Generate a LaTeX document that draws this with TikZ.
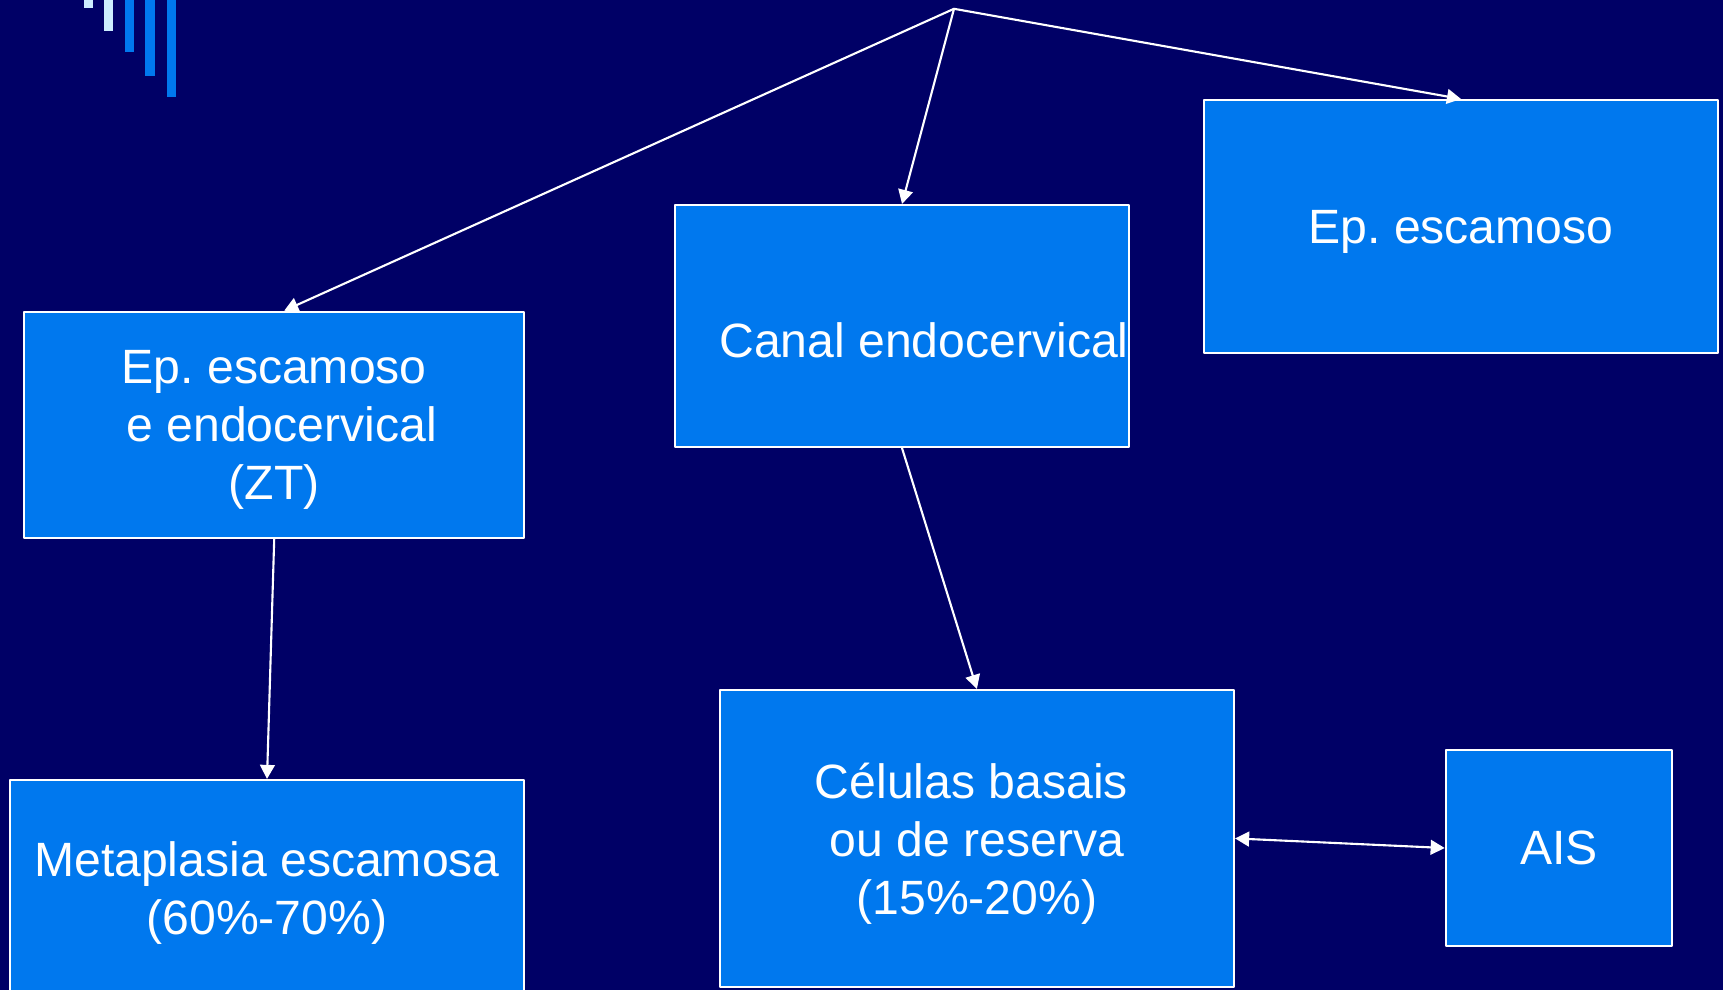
\documentclass[tikz,border=0pt]{standalone}
\usepackage{fontspec}
\setmainfont{Liberation Sans}
\usetikzlibrary{arrows.meta}

\definecolor{slidebg}{RGB}{0,0,102}
\definecolor{boxblue}{RGB}{0,120,238}
\definecolor{barlight}{RGB}{204,236,255}

\begin{document}
\frenchspacing
\begin{tikzpicture}[line cap=round,line join=round,
  >={Triangle[length=4pt,width=4.2pt]},
  box/.style={draw=white,line width=0.6pt,fill=boxblue,text=white,inner sep=0pt,
    text depth=0pt,align=center,font=\fontsize{13.7}{16.5}\selectfont},
  link/.style={draw=white,line width=0.6pt,->}]
  \fill[slidebg] (0,0) rectangle (17.23,-9.90);
  \useasboundingbox (0,0) rectangle (17.23,-9.90);
  % slide bars, top left
  \fill[barlight] (0.84,0) rectangle (0.93,-0.08);
  \fill[barlight] (1.04,0) rectangle (1.13,-0.31);
  \fill[boxblue] (1.25,0) rectangle (1.34,-0.52);
  \fill[boxblue] (1.45,0) rectangle (1.55,-0.76);
  \fill[boxblue] (1.67,0) rectangle (1.76,-0.97);
  % boxes
  \node[box,minimum width=5.14cm,minimum height=2.53cm] (esc) at (14.61,-2.265) {Ep. escamoso};
  \node[box,minimum width=4.54cm,minimum height=2.42cm,text height=0.63cm]
    (canal) at (9.02,-3.26) {\hspace*{0.44cm}Canal endocervical};
  \node[box,minimum width=5.00cm,minimum height=2.265cm] (zt) at (2.742,-4.25)
    {Ep. escamoso\\\hspace*{0.15cm}e endocervical\\(ZT)};
  \node[box,minimum width=5.143cm,minimum height=2.16cm] (meta) at (2.67,-8.88)
    {Metaplasia escamosa\\(60\%-70\%)};
  \node[box,minimum width=5.142cm,minimum height=2.968cm] (cel) at (9.769,-8.384)
    {Células basais\hspace*{0.11cm}\\ou de reserva\\(15\%-20\%)};
  \node[box,minimum width=2.265cm,minimum height=1.955cm] (ais) at (15.59,-8.48) {AIS};
  % arrows
  \coordinate (top) at (9.54,-0.088);
  \draw[link] (top) -- ([xshift=1mm]zt.north);
  \draw[link] (top) -- (canal.north);
  \draw[link] (top) -- (esc.north);
  \draw[link] (zt.south) -- (meta.north);
  \draw[link] (canal.south) -- (cel.north);
  \draw[link,<->] (cel.east) -- (ais.west);
\end{tikzpicture}
\end{document}
